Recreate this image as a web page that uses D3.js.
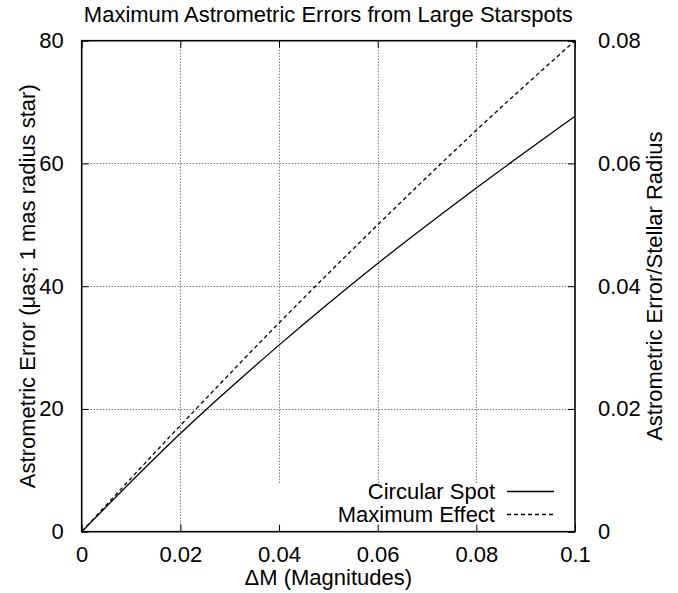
<!DOCTYPE html>
<html><head><meta charset="utf-8">
<script src="https://cdn.jsdelivr.net/npm/d3@7"></script>
<style>
html,body{margin:0;padding:0;background:#fff;}
svg{display:block;font-family:"Liberation Sans",Arial,Helvetica,sans-serif;}
</style></head>
<body>
<script>
// ---- data ----
const deltaM = [0, 0.02, 0.04, 0.06, 0.08, 0.1];
const circularSpot = [0, 16.0, 30.4, 43.7, 56.0, 67.7];
const maximumEffect = [0, 17.3, 34.0, 50.0, 65.4, 80.0];
const seriesNames = ["Circular Spot", "Maximum Effect"];
const xTicks = [0, 0.02, 0.04, 0.06, 0.08, 0.1];
const yTicks = [0, 20, 40, 60, 80];
const y2Ticks = [0, 0.02, 0.04, 0.06, 0.08];
const titleText = "Maximum Astrometric Errors from Large Starspots";
const xLabel = "\u0394M (Magnitudes)";
const yLabel = "Astrometric Error (\u03bcas; 1 mas radius star)";
const y2Label = "Astrometric Error/Stellar Radius";

// ---- layout ----
const W = 678, H = 593;
const L = 81.7, R = 575, T = 40.7, B = 531.7;
const FS = 22;

const svg = d3.select("body").append("svg").attr("width", W).attr("height", H);

const x = d3.scaleLinear().domain([0, 0.1]).range([L, R]);
const y = d3.scaleLinear().domain([0, 80]).range([B, T]);
const y2 = d3.scaleLinear().domain([0, 0.08]).range([B, T]);

const fmt = d => d === 0 ? "0" : String(+d.toFixed(3));

// grid lines
const grid = svg.append("g").attr("stroke", "#000").attr("stroke-width", 1)
  .attr("stroke-dasharray", "1,2").attr("opacity", 0.75);
grid.selectAll("line.gx").data(xTicks.filter(d => d > 0 && d < 0.1)).join("line")
  .attr("x1", d => Math.round(x(d)) + 0.5).attr("x2", d => Math.round(x(d)) + 0.5)
  .attr("y1", T).attr("y2", B);
grid.selectAll("line.gy").data(yTicks.filter(d => d > 0 && d < 80)).join("line")
  .attr("y1", d => Math.round(y(d)) + 0.5).attr("y2", d => Math.round(y(d)) + 0.5)
  .attr("x1", L).attr("x2", R);

// opaque key area
svg.append("rect").attr("x", 200).attr("y", 483).attr("width", R - 201).attr("height", B - 483 - 1)
  .attr("fill", "#fff");

// axes (ticks inward)
const tk = 7;
const axB = svg.append("g").attr("transform", `translate(0,${B})`)
  .call(d3.axisBottom(x).tickValues(xTicks).tickSize(-tk).tickPadding(tk + 8).tickFormat(fmt));
const axT = svg.append("g").attr("transform", `translate(0,${T})`)
  .call(d3.axisTop(x).tickValues(xTicks).tickSize(-tk).tickFormat(""));
const axL = svg.append("g").attr("transform", `translate(${L},0)`)
  .call(d3.axisLeft(y).tickValues(yTicks).tickSize(-tk).tickPadding(tk + 11).tickFormat(fmt));
const axR = svg.append("g").attr("transform", `translate(${R},0)`)
  .call(d3.axisRight(y2).tickValues(y2Ticks).tickSize(-tk).tickPadding(tk + 16).tickFormat(fmt));
[axB, axT, axL, axR].forEach(g => {
  g.select(".domain").remove();
  g.selectAll("line").attr("stroke", "#000").attr("stroke-width", 1);
  g.selectAll("text").attr("font-size", FS).attr("font-family", "Liberation Sans, Arial, sans-serif").attr("fill", "#000");
});
axB.selectAll("text").attr("dy", "0.71em");

// border
svg.append("rect").attr("x", L).attr("y", T).attr("width", R - L).attr("height", B - T)
  .attr("fill", "none").attr("stroke", "#000").attr("stroke-width", 1.6);

// curves
const line = d3.line().x(d => x(d[0])).y(d => y(d[1])).curve(d3.curveMonotoneX);
const cs = deltaM.map((d, i) => [d, circularSpot[i]]);
const me = deltaM.map((d, i) => [d, maximumEffect[i]]);
svg.append("path").attr("d", line(cs)).attr("fill", "none").attr("stroke", "#000").attr("stroke-width", 1.3);
svg.append("path").attr("d", line(me)).attr("fill", "none").attr("stroke", "#000").attr("stroke-width", 1.3)
  .attr("stroke-dasharray", "4,3");

// legend
const leg = svg.append("g");
seriesNames.forEach((name, i) => {
  const yy = 491 + i * 23;
  leg.append("text").attr("x", 495).attr("y", yy).attr("dy", "0.35em").attr("text-anchor", "end")
    .attr("font-size", FS).text(name);
  leg.append("line").attr("x1", 507).attr("x2", 554).attr("y1", yy + 0.5).attr("y2", yy + 0.5)
    .attr("stroke", "#000").attr("stroke-width", 1.3)
    .attr("stroke-dasharray", i === 1 ? "4,3" : null);
});

// title and labels
svg.append("text").attr("x", (L + R) / 2).attr("y", 22).attr("text-anchor", "middle")
  .attr("font-size", FS).text(titleText);
svg.append("text").attr("x", (L + R) / 2).attr("y", 585).attr("text-anchor", "middle")
  .attr("font-size", FS).text(xLabel);
svg.append("text").attr("transform", `translate(35,${(T + B) / 2}) rotate(-90)`).attr("text-anchor", "middle")
  .attr("font-size", FS).text(yLabel);
svg.append("text").attr("transform", `translate(662,${(T + B) / 2}) rotate(-90)`).attr("text-anchor", "middle")
  .attr("font-size", FS).text(y2Label);
</script>
</body></html>
